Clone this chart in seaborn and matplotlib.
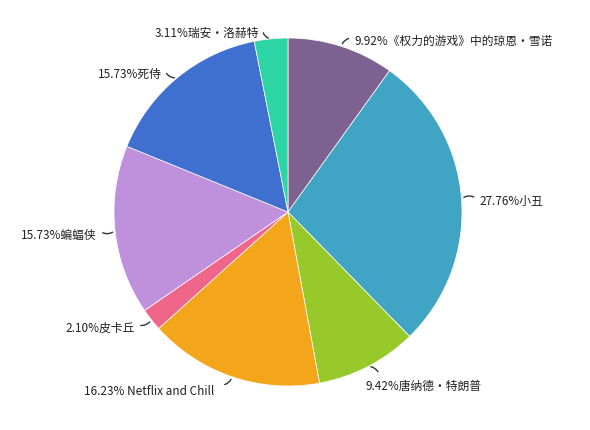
import numpy as np
import matplotlib
matplotlib.use("Agg")
import matplotlib.pyplot as plt
import seaborn as sns

labels = ["《权力的游戏》中的琼恩•雪诺", "小丑", "唐纳德•特朗普", " Netflix and Chill",
          "皮卡丘", "蝙蝠侠", "死侍", "瑞安•洛赫特"]
values = [9.92, 27.76, 9.42, 16.23, 2.10, 15.73, 15.73, 3.11]
colors = ["#7C6191", "#40A4C4", "#98C92A", "#F4A61B", "#F0658A", "#BF91DD", "#3F6FCF", "#2DD4A4"]

sns.set_style("white")
plt.rcParams['font.family'] = ['Noto Sans CJK SC', 'DejaVu Sans']

fig = plt.figure(figsize=(5.9, 4.3), dpi=100)
ax = fig.add_axes([114 / 590, 44 / 430, 348 / 590, 348 / 430])
wedges, _ = ax.pie(values, colors=colors, startangle=90, counterclock=False, radius=1,
                   wedgeprops=dict(edgecolor="white", linewidth=0.5))
ax.set_xlim(-1, 1)
ax.set_ylim(-1, 1)
ax.set_aspect("equal")
ax.axis("off")

for w, lab, v in zip(wedges, labels, values):
    ang = np.deg2rad((w.theta1 + w.theta2) / 2)
    c, s = np.cos(ang), np.sin(ang)
    sign = 1 if c >= 0 else -1
    p1 = (1.0 * c, 1.0 * s)
    p2 = (1.04 * c + 0.045 * sign, 1.05 * s)
    ax.annotate("", xy=p1, xytext=p2,
                arrowprops=dict(arrowstyle="-", color="#333333", lw=1,
                                connectionstyle="arc3,rad=0.35"),
                annotation_clip=False)
    ha = "left" if c >= 0 else "right"
    tx = p2[0] + 0.02 * sign
    ty = p2[1] - 0.02
    if s < -0.85:
        if c >= 0:
            tx, ty = p2[0] - 0.08, p2[1] - 0.07
        else:
            tx, ty = p2[0] - 0.045, p2[1] - 0.04
    ax.text(tx, ty, f"{v:.2f}%{lab}", ha=ha, va="center", fontsize=8.5, color="#222222",
            clip_on=False)

fig.savefig("out.png", dpi=100)
